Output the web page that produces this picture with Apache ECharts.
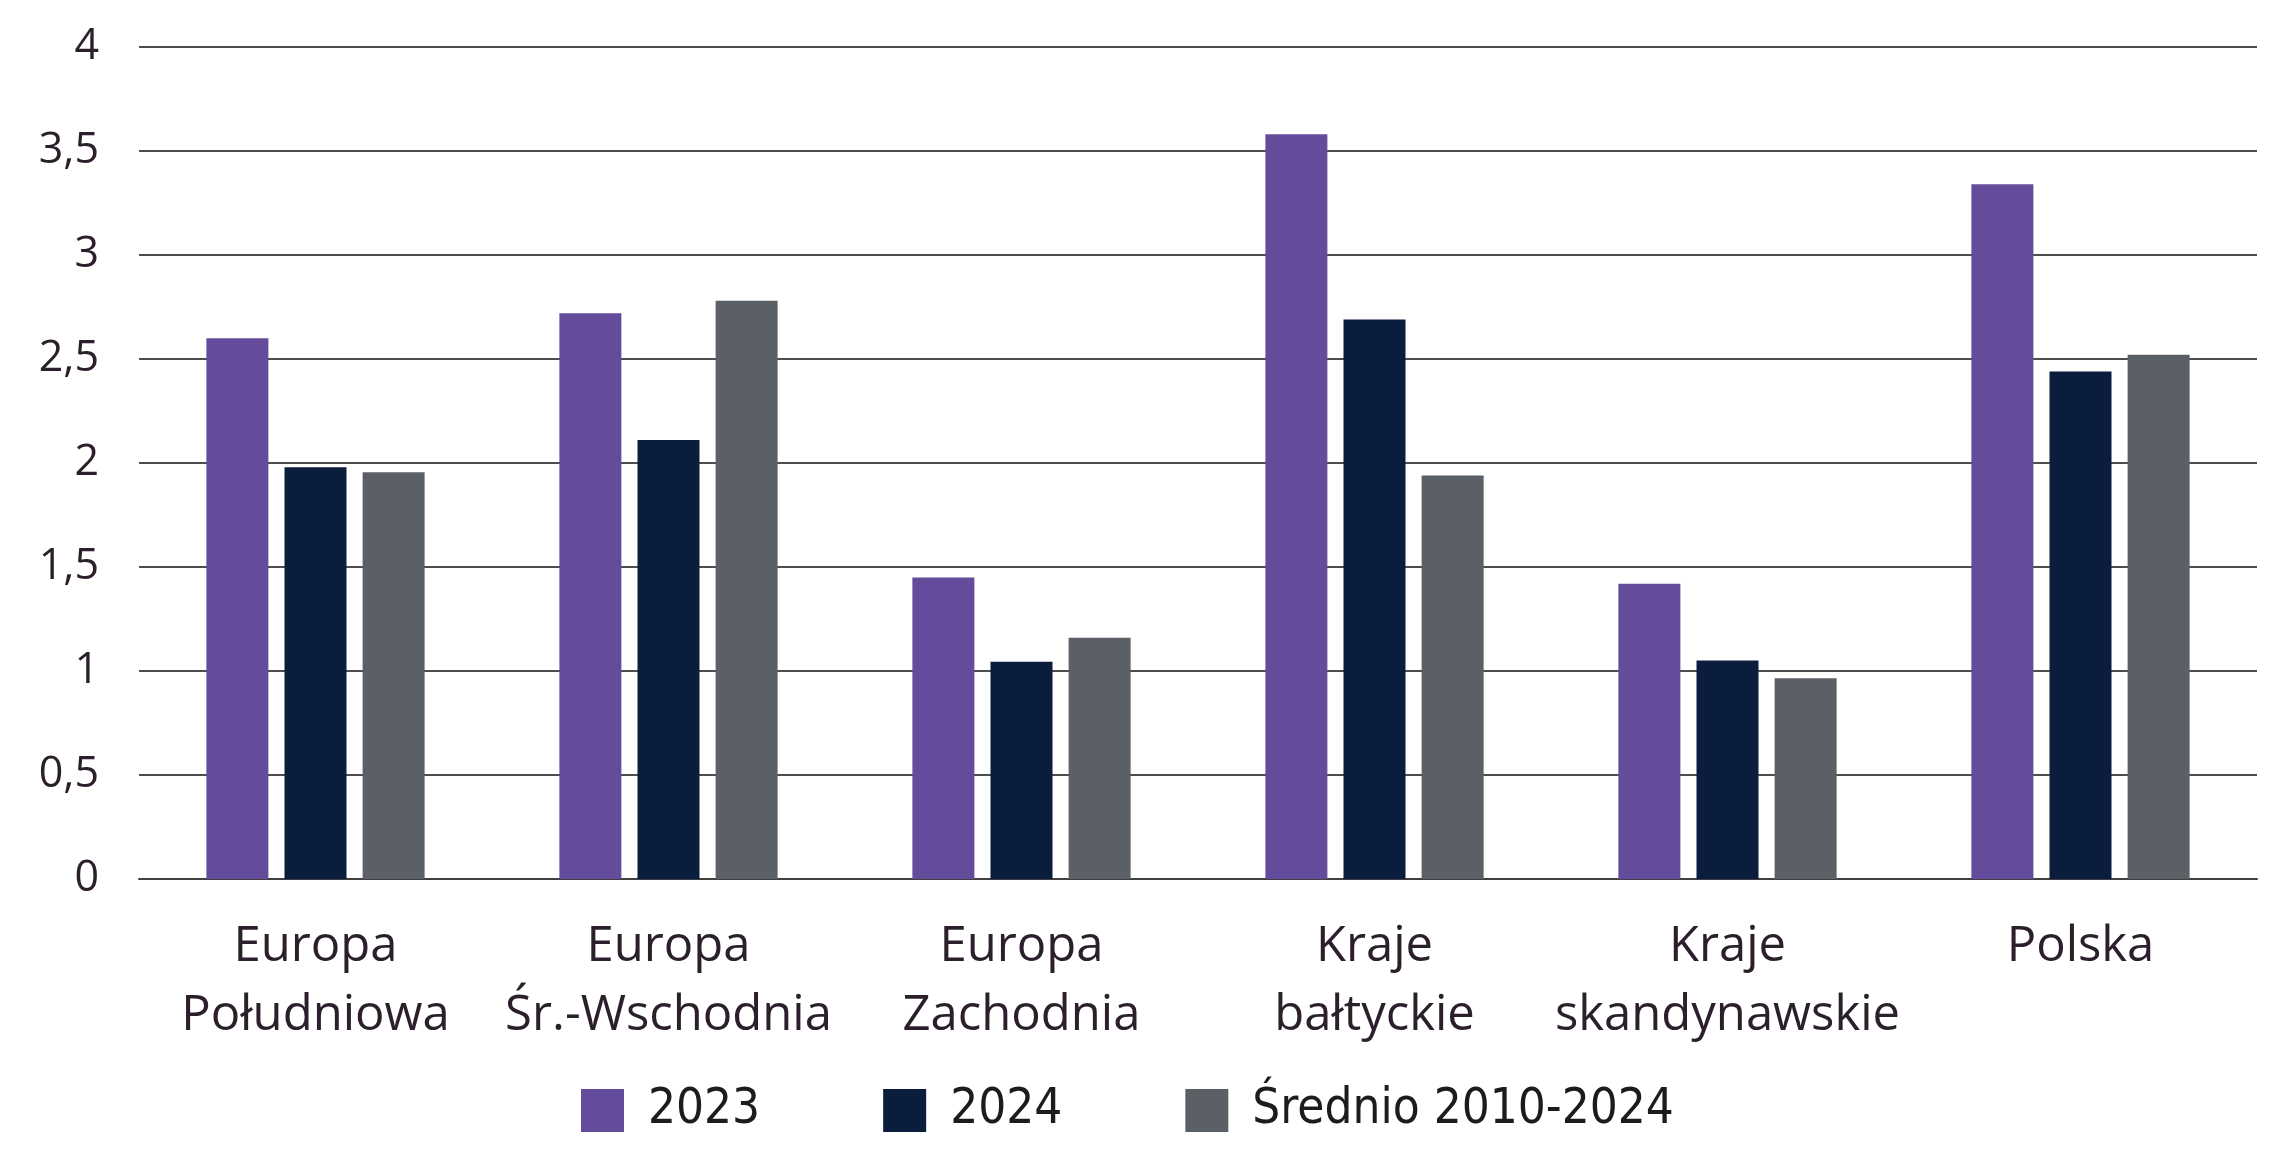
<!DOCTYPE html>
<html lang="pl">
<head>
	<meta charset="UTF-8">
	<title>Wykres</title>
	<script src="https://cdn.jsdelivr.net/npm/echarts@6/dist/echarts.min.js"></script>
	<style>
		html, body { margin: 0; padding: 0; background: #fff; }
		#chart { width: 2275px; height: 1156px; }
	</style>
</head>
<body>
	<div id="chart"></div>

	<script>
		// dane
		var categories = ['Europa\nPołudniowa', 'Europa\nŚr.-Wschodnia', 'Europa\nZachodnia', 'Kraje\nbałtyckie', 'Kraje\nskandynawskie', 'Polska'];
		var seriesNames = ['2023', '2024', 'Średnio 2010-2024'];
		var values2023 = [2.60, 2.72, 1.45, 3.58, 1.42, 3.34];
		var values2024 = [1.98, 2.11, 1.045, 2.69, 1.05, 2.44];
		var valuesAvg = [1.955, 2.78, 1.16, 1.94, 0.965, 2.52];
		var colors = ['#654b9c', '#0b1d3d', '#5b5f66'];

		var chart = echarts.init(document.getElementById('chart'));

		function bar(name, data, color) {
			return {
				name: name,
				type: 'bar',
				data: data,
				barWidth: 62,
				barGap: '26%',
				itemStyle: { color: color }
			};
		}

		var option = {
			animation: false,
			grid: { left: 139, right: 18, top: 47, bottom: 277 },
			legend: {
				left: 576,
				top: 1081,
				itemWidth: 43,
				itemHeight: 43,
				itemGap: 123,
				icon: 'rect',
				textStyle: {
					fontFamily: '"Liberation Sans Narrow", "DejaVu Sans Condensed", sans-serif',
					fontSize: 49,
					color: '#1c1c1c',
					padding: [0, 0, 0, 19]
				},
				data: seriesNames
			},
			xAxis: {
				type: 'category',
				data: categories,
				axisTick: { show: false },
				axisLine: { lineStyle: { color: '#404040', width: 2 } },
				axisLabel: {
					margin: 34,
					interval: 0,
					fontFamily: '"Open Sans", sans-serif',
					fontSize: 49,
					lineHeight: 69,
					color: '#2a1f2b'
				}
			},
			yAxis: {
				type: 'value',
				min: 0,
				max: 4,
				interval: 0.5,
				axisLine: { show: false },
				axisTick: { show: false },
				splitLine: { lineStyle: { color: '#4d4d4d', width: 2 } },
				axisLabel: {
					margin: 40,
					fontFamily: '"Open Sans", sans-serif',
					fontSize: 43,
					color: '#2a1f2b',
					formatter: function (v) { return String(v).replace('.', ','); }
				}
			},
			series: [
				bar(seriesNames[0], values2023, colors[0]),
				bar(seriesNames[1], values2024, colors[1]),
				bar(seriesNames[2], valuesAvg, colors[2])
			]
		};
		chart.setOption(option);
	</script>
</body>
</html>
